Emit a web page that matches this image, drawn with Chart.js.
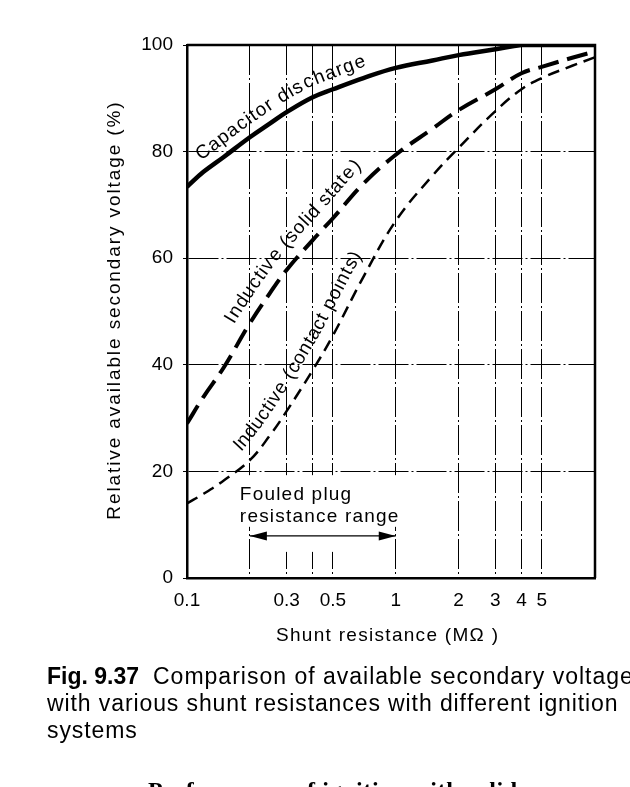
<!DOCTYPE html>
<html>
<head>
<meta charset="utf-8">
<title>Fig. 9.37</title>
<script src="https://cdn.jsdelivr.net/npm/chart.js@4.4.0/dist/chart.umd.min.js"></script>
<style>
html, body { margin: 0; padding: 0; background: #fff; }
#wrap { width: 630px; height: 787px; position: relative; }
</style>
</head>
<body>
<div id="wrap"><canvas id="myChart"></canvas></div>
<script>
// shunt resistance (MOhm) and relative available secondary voltage (%)
var shuntResistance = [0.1, 0.12, 0.15, 0.2, 0.25, 0.3, 0.4, 0.5, 0.7, 1, 1.5, 2, 3, 4, 5, 7, 9];
var capacitorDischarge = [73.4, 76.2, 79, 82.7, 85.3, 87.4, 90.2, 91.7, 93.8, 95.7, 97.1, 98.1, 99.2, 100, 100, 100, 100];
var inductiveSolidState = [29, 34, 39.5, 47.8, 53.5, 57.8, 63.4, 67.5, 74, 79.4, 84.3, 87.8, 91.7, 94.7, 95.9, 97.6, 98.8];
var inductiveContactPoints = [14, 15.8, 18.3, 22.1, 26.8, 31.3, 39, 45.5, 56.5, 67, 75.5, 80.7, 87.6, 91.7, 93.8, 96.1, 97.7];

var xTickValues = [0.1, 0.2, 0.3, 0.4, 0.5, 1, 2, 3, 4, 5];
var xTickLabels = ["0.1", "", "0.3", "", "0.5", "1", "2", "3", "4", "5"];
var yTickValues = [0, 20, 40, 60, 80, 100];

var FONT = '"Liberation Sans", Arial, Helvetica, sans-serif';

function points(values) {
    return shuntResistance.map(function (x, i) { return { x: x, y: values[i] }; });
}

function spacedWidth(ctx, text, sp) {
    var w = 0;
    for (var i = 0; i < text.length; i++) w += ctx.measureText(text[i]).width + sp;
    return w - sp;
}

function drawSpaced(ctx, text, x, y, sp, center) {
    var sx = center ? x - spacedWidth(ctx, text, sp) / 2 : x;
    for (var i = 0; i < text.length; i++) {
        ctx.fillText(text[i], sx, y);
        sx += ctx.measureText(text[i]).width + sp;
    }
}

// point on a polyline at arc length s
function pathAt(pts, lens, s) {
    var i = 1;
    while (i < pts.length - 1 && lens[i] < s) i++;
    var seg = lens[i] - lens[i - 1] || 1;
    var t = (s - lens[i - 1]) / seg;
    return {
        x: pts[i - 1].x + (pts[i].x - pts[i - 1].x) * t,
        y: pts[i - 1].y + (pts[i].y - pts[i - 1].y) * t
    };
}

// lay text along a drawn curve, lifted by `off` px on its upper side
function textOnCurve(chart, index, text, startX, off, sp) {
    var ctx = chart.ctx;
    var pts = chart.getDatasetMeta(index).data.map(function (p) { return { x: p.x, y: p.y }; });
    var lens = [0];
    for (var i = 1; i < pts.length; i++) {
        lens.push(lens[i - 1] + Math.hypot(pts[i].x - pts[i - 1].x, pts[i].y - pts[i - 1].y));
    }
    var px = chart.scales.x.getPixelForValue(startX);
    var s = 0;
    for (var k = 1; k < pts.length; k++) {
        if (pts[k].x >= px) {
            s = lens[k - 1] + (lens[k] - lens[k - 1]) * (px - pts[k - 1].x) / (pts[k].x - pts[k - 1].x);
            break;
        }
    }
    ctx.textAlign = "center";
    for (var c = 0; c < text.length; c++) {
        var cw = ctx.measureText(text[c]).width;
        var p1 = pathAt(pts, lens, s + cw / 2 - 6), p2 = pathAt(pts, lens, s + cw / 2 + 6);
        var m = pathAt(pts, lens, s + cw / 2);
        var a = Math.atan2(p2.y - p1.y, p2.x - p1.x);
        ctx.save();
        ctx.translate(m.x + Math.sin(a) * off, m.y - Math.cos(a) * off);
        ctx.rotate(a);
        ctx.fillText(text[c], 0, 0);
        ctx.restore();
        s += cw + sp;
    }
    ctx.textAlign = "left";
}

var figurePlugin = {
    id: "figure",
    beforeDatasetsDraw: function (chart) {
        var ctx = chart.ctx, xs = chart.scales.x, ys = chart.scales.y;
        var x02 = xs.getPixelForValue(0.2), x1 = xs.getPixelForValue(1);
        ctx.save();
        ctx.fillStyle = "#fff";
        // gaps in the grid behind the fouled plug note
        ctx.fillRect(x02 - 14, ys.getPixelForValue(19.3), x1 - x02 + 26, ys.getPixelForValue(9.6) - ys.getPixelForValue(19.3));
        ctx.fillRect(x02 + 3, ys.getPixelForValue(9.8), x1 - x02 - 6, ys.getPixelForValue(4.9) - ys.getPixelForValue(9.8));
        ctx.restore();
    },
    afterDatasetsDraw: function (chart) {
        var ctx = chart.ctx, xs = chart.scales.x, ys = chart.scales.y, a = chart.chartArea;
        ctx.save();
        ctx.fillStyle = "#000";
        ctx.strokeStyle = "#000";

        // top and right frame
        ctx.lineWidth = 2.5;
        ctx.beginPath();
        ctx.moveTo(a.left, a.top);
        ctx.lineTo(a.right, a.top);
        ctx.lineTo(a.right, a.bottom);
        ctx.stroke();

        // curve labels
        ctx.font = "19px " + FONT;
        ctx.textBaseline = "alphabetic";
        textOnCurve(chart, 0, "Capacitor discharge", 0.125, 10.5, 1.1);
        textOnCurve(chart, 1, "Inductive (solid state)", 0.19, 13, 0.9);
        textOnCurve(chart, 2, "Inductive (contact points)", 0.2, 12, 0.9);

        // fouled plug resistance range
        var x02 = xs.getPixelForValue(0.2), x1 = xs.getPixelForValue(1);
        drawSpaced(ctx, "Fouled plug", x02 - 10, ys.getPixelForValue(14.6), 1.2, false);
        drawSpaced(ctx, "resistance range", x02 - 10, ys.getPixelForValue(10.5), 1.2, false);
        var ay = ys.getPixelForValue(7.9);
        ctx.lineWidth = 1.2;
        ctx.beginPath();
        ctx.moveTo(x02, ay);
        ctx.lineTo(x1, ay);
        ctx.stroke();
        ctx.beginPath();
        ctx.moveTo(x02, ay);
        ctx.lineTo(x02 + 17, ay - 4.5);
        ctx.lineTo(x02 + 17, ay + 4.5);
        ctx.closePath();
        ctx.fill();
        ctx.beginPath();
        ctx.moveTo(x1, ay);
        ctx.lineTo(x1 - 17, ay - 4.5);
        ctx.lineTo(x1 - 17, ay + 4.5);
        ctx.closePath();
        ctx.fill();
        ctx.restore();
    },
    afterDraw: function (chart) {
        var ctx = chart.ctx;
        ctx.save();
        ctx.fillStyle = "#000";
        ctx.textBaseline = "alphabetic";

        // axis titles
        ctx.font = "19px " + FONT;
        drawSpaced(ctx, "Shunt resistance (M\u03A9 )", 387, 641, 1.3, true);
        ctx.save();
        ctx.translate(120, 311);
        ctx.rotate(-Math.PI / 2);
        drawSpaced(ctx, "Relative available secondary voltage (%)", 0, 0, 1.9, true);
        ctx.restore();

        // caption
        ctx.font = "bold 23px " + FONT;
        ctx.fillText("Fig. 9.37", 47, 684);
        ctx.font = "23px " + FONT;
        drawSpaced(ctx, "Comparison of available secondary voltage", 153, 684, 1.0, false);
        drawSpaced(ctx, "with various shunt resistances with different ignition", 47, 711, 0.9, false);
        drawSpaced(ctx, "systems", 47, 738, 0.9, false);

        // next heading, cut by the page edge
        ctx.font = 'bold 24px "Liberation Serif", "DejaVu Serif", serif';
        drawSpaced(ctx, "Performance of ignition with solid", 148, 798, 0.6, false);
        ctx.restore();
    }
};

var myChart = document.getElementById("myChart").getContext("2d");

var shuntChart = new Chart(myChart, {
    type: "line",
    data: {
        datasets: [{
            label: "Capacitor discharge",
            data: points(capacitorDischarge),
            borderColor: "#000",
            borderWidth: 4.5,
            pointRadius: 0,
            fill: false,
            tension: 0.4
        }, {
            label: "Inductive (solid state)",
            data: points(inductiveSolidState),
            borderColor: "#000",
            borderWidth: 4,
            borderDash: [21, 9],
            pointRadius: 0,
            fill: false,
            tension: 0.4
        }, {
            label: "Inductive (contact points)",
            data: points(inductiveContactPoints),
            borderColor: "#000",
            borderWidth: 2.5,
            borderDash: [12, 7],
            pointRadius: 0,
            fill: false,
            tension: 0.4
        }]
    },
    options: {
        responsive: true,
        maintainAspectRatio: false,
        animation: false,
        layout: { padding: { top: 45, right: 35, bottom: 0, left: 0 } },
        plugins: {
            legend: { display: false },
            tooltip: { enabled: false }
        },
        scales: {
            x: {
                type: "logarithmic",
                min: 0.1,
                max: 9,
                afterBuildTicks: function (scale) {
                    scale.ticks = xTickValues.map(function (v) { return { value: v }; });
                },
                afterFit: function (scale) { scale.height = 209; },
                ticks: {
                    autoSkip: false,
                    maxRotation: 0,
                    padding: 11,
                    color: "#000",
                    font: { family: FONT, size: 19 },
                    callback: function (value) { return xTickLabels[xTickValues.indexOf(value)]; }
                },
                grid: { color: "#000", lineWidth: 1, drawTicks: false },
                border: { color: "#000", width: 2.5, dash: [30, 3, 2, 3] }
            },
            y: {
                min: 0,
                max: 100,
                afterBuildTicks: function (scale) {
                    scale.ticks = yTickValues.map(function (v) { return { value: v }; });
                },
                afterFit: function (scale) { scale.width = 187; },
                ticks: {
                    padding: 10,
                    color: "#000",
                    font: { family: FONT, size: 19 }
                },
                grid: { color: "#000", lineWidth: 1, drawTicks: true, tickLength: 4 },
                border: { color: "#000", width: 2.5, dash: [30, 3, 2, 3] }
            }
        }
    },
    plugins: [figurePlugin]
});
</script>
</body>
</html>
